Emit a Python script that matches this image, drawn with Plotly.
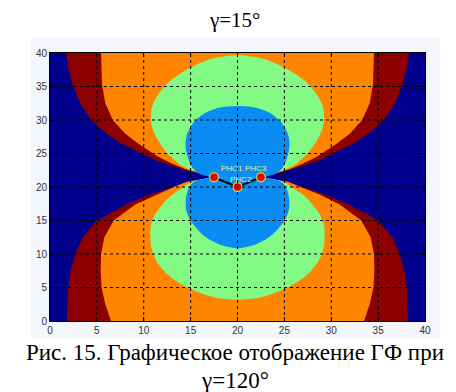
import plotly.graph_objects as go

# ---------------- data ----------------
# stations (x, y) and their labels
STATION_X = [17.5, 20.0, 22.5]
STATION_Y = [21.44, 20.0, 21.44]
STATION_LABELS = ["РНС1", "РНС2", "РНС3"]

# symmetry axis of the zone map (x of station 2)
AXIS_X = 20.0

# zone boundaries: pairs of (y, half-width from AXIS_X), upper lobes
RED_UP_Y = [21.44, 21.9, 22.5, 23.2, 24.0, 25.1, 26.5, 28.0, 30.0, 32.5, 35.3, 37.5, 40.0]
RED_UP_HW = [2.5, 4.0, 5.6, 7.2, 8.7, 10.4, 12.4, 14.0, 15.6, 16.8, 17.6, 18.0, 18.3]
ORANGE_UP_Y = [21.44, 22.0, 22.7, 23.5, 24.4, 25.2, 26.5, 28.0, 30.0, 32.5, 35.3, 37.5, 40.0]
ORANGE_UP_HW = [2.5, 4.0, 5.6, 7.0, 8.3, 9.2, 10.6, 12.0, 13.3, 14.1, 14.45, 14.5, 14.55]
GREEN_UP_Y = [21.44, 22.1, 22.8, 23.6, 24.5, 25.2, 27.0, 28.5, 30.3, 32.0, 33.5, 35.3, 37.0, 38.5, 39.3, 39.7]
GREEN_UP_HW = [2.5, 4.0, 5.4, 6.4, 7.1, 7.6, 8.5, 9.0, 9.25, 9.1, 8.6, 7.6, 6.0, 4.0, 2.3, 0.0]
BLUE_UP_Y = [21.44, 21.7, 22.2, 23.0, 24.0, 25.2, 26.5, 27.8, 29.0, 30.0, 31.0, 31.6, 32.0, 32.1]
BLUE_UP_HW = [2.5, 3.5, 4.3, 4.85, 5.2, 5.45, 5.55, 5.4, 5.0, 4.45, 3.5, 2.5, 1.2, 0.0]

# lower lobes
RED_LO_Y = [21.44, 21.0, 20.6, 19.9, 18.9, 17.4, 16.6, 15.0, 12.5, 10.0, 7.5, 5.0, 2.5, 0.0]
RED_LO_HW = [2.5, 4.0, 5.6, 7.0, 9.3, 11.9, 12.9, 15.0, 16.5, 17.3, 17.8, 18.05, 18.15, 18.2]
ORANGE_LO_Y = [21.44, 21.1, 20.8, 20.2, 19.5, 18.9, 17.4, 15.0, 12.5, 10.0, 7.5, 5.0, 2.5, 0.0]
ORANGE_LO_HW = [2.5, 4.0, 5.4, 6.5, 7.6, 8.7, 10.9, 13.2, 14.2, 14.55, 14.6, 14.5, 14.1, 13.5]
GREEN_LO_Y = [21.44, 21.15, 20.8, 20.2, 19.85, 18.9, 17.4, 15.0, 12.4, 10.0, 7.4, 5.1, 4.0, 3.4, 3.2]
GREEN_LO_HW = [2.5, 3.8, 4.8, 5.6, 5.9, 6.9, 8.0, 9.1, 9.3, 9.0, 7.8, 5.5, 3.6, 2.0, 0.0]
BLUE_LO_Y = [21.44, 21.25, 20.95, 20.4, 19.5, 18.3, 16.8, 15.5, 14.2, 13.0, 12.0, 11.3, 10.8]
BLUE_LO_HW = [2.5, 3.6, 4.4, 4.95, 5.3, 5.5, 5.5, 5.2, 4.6, 3.8, 2.8, 1.7, 0.0]

TICKS = [0, 5, 10, 15, 20, 25, 30, 35, 40]
TITLE = "γ=15°"
CAPTION_1 = "Рис. 15. Графическое отображение ГФ при"
CAPTION_2 = "γ=120°"

# ---------------- styles ----------------
C_DARKBLUE = "#00008c"
C_LIGHTBLUE = "#0a8cf5"
C_GREEN = "#82fa84"
C_ORANGE = "#ff8400"
C_DARKRED = "#8c0000"


def lobe(ys, hws):
    xs_left = [AXIS_X - h for h in hws]
    xs_right = [AXIS_X + h for h in hws]
    return xs_left + xs_right[::-1], ys + ys[::-1]


fig = go.Figure()
zones = [
    (RED_UP_Y, RED_UP_HW, C_DARKRED, "linear"), (RED_LO_Y, RED_LO_HW, C_DARKRED, "linear"),
    (ORANGE_UP_Y, ORANGE_UP_HW, C_ORANGE, "linear"), (ORANGE_LO_Y, ORANGE_LO_HW, C_ORANGE, "linear"),
    (GREEN_UP_Y, GREEN_UP_HW, C_GREEN, "spline"), (GREEN_LO_Y, GREEN_LO_HW, C_GREEN, "spline"),
    (BLUE_UP_Y, BLUE_UP_HW, C_LIGHTBLUE, "spline"), (BLUE_LO_Y, BLUE_LO_HW, C_LIGHTBLUE, "spline"),
]
for ys, hws, col, shape in zones:
    xs, yy = lobe(ys, hws)
    fig.add_trace(go.Scatter(x=xs, y=yy, mode="lines", fill="toself",
                             fillcolor=col, line=dict(width=0, color=col, shape=shape),
                             hoverinfo="skip", showlegend=False))

# connecting line and station markers
fig.add_trace(go.Scatter(x=STATION_X, y=STATION_Y, mode="lines+markers",
                         line=dict(color="black", width=2),
                         marker=dict(size=9, color="#e80000",
                                     line=dict(color="#b4d23c", width=1.5)),
                         showlegend=False, hoverinfo="skip"))

# station labels (pixel offsets from each station)
label_ax = [5, -10, -18]
label_ay = [-9, -8, -9]
for x, y, t, ax, ay in zip(STATION_X, STATION_Y, STATION_LABELS, label_ax, label_ay):
    fig.add_annotation(x=x, y=y, text=t, showarrow=True, arrowcolor="rgba(0,0,0,0)",
                       ax=ax, ay=ay, xanchor="left", yanchor="middle",
                       font=dict(family="Liberation Sans", size=8, color="#e6eea0"))

shapes = []
# light figure background behind the axes
shapes.append(dict(type="rect", xref="paper", yref="paper", x0=-0.051, x1=1.04,
                   y0=-0.063, y1=1.056, fillcolor="#f3f6fa", line=dict(width=0),
                   layer="below"))
# dark blue field (lowest zone)
shapes.append(dict(type="rect", xref="paper", yref="paper", x0=0, x1=1, y0=0, y1=1,
                   fillcolor=C_DARKBLUE, line=dict(width=0), layer="below"))
# dotted grid above the zones
for t in TICKS[1:-1]:
    shapes.append(dict(type="line", xref="x", yref="paper", x0=t, x1=t, y0=0, y1=1,
                       line=dict(color="black", width=1, dash="dot"), layer="above"))
    shapes.append(dict(type="line", xref="paper", yref="y", x0=0, x1=1, y0=t, y1=t,
                       line=dict(color="black", width=1, dash="dot"), layer="above"))

fig.add_annotation(text=TITLE, xref="paper", yref="paper", x=0.493, y=1.123,
                   showarrow=False, xanchor="center", yanchor="middle",
                   font=dict(family="Liberation Serif", size=21, color="black"))
fig.add_annotation(text=CAPTION_1, xref="paper", yref="paper", x=0.494, y=-0.116,
                   showarrow=False, xanchor="center", yanchor="middle",
                   font=dict(family="Liberation Serif", size=23, color="black"))
fig.add_annotation(text=CAPTION_2, xref="paper", yref="paper", x=0.493, y=-0.222,
                   showarrow=False, xanchor="center", yanchor="middle",
                   font=dict(family="Liberation Serif", size=23, color="black"))

axis_common = dict(range=[0, 40], tickvals=TICKS, showgrid=False, zeroline=False,
                   showline=True, linecolor="black", linewidth=1, mirror="allticks",
                   ticks="inside", ticklen=4, tickcolor="black",
                   tickfont=dict(family="Liberation Sans", size=10, color="#333333"))

fig.update_layout(
    width=456, height=392,
    margin=dict(l=42, r=39, t=45, b=79),
    paper_bgcolor="white", plot_bgcolor="rgba(0,0,0,0)",
    shapes=shapes,
    xaxis=dict(**axis_common),
    yaxis=dict(**axis_common),
)

fig.write_html("out.html")
